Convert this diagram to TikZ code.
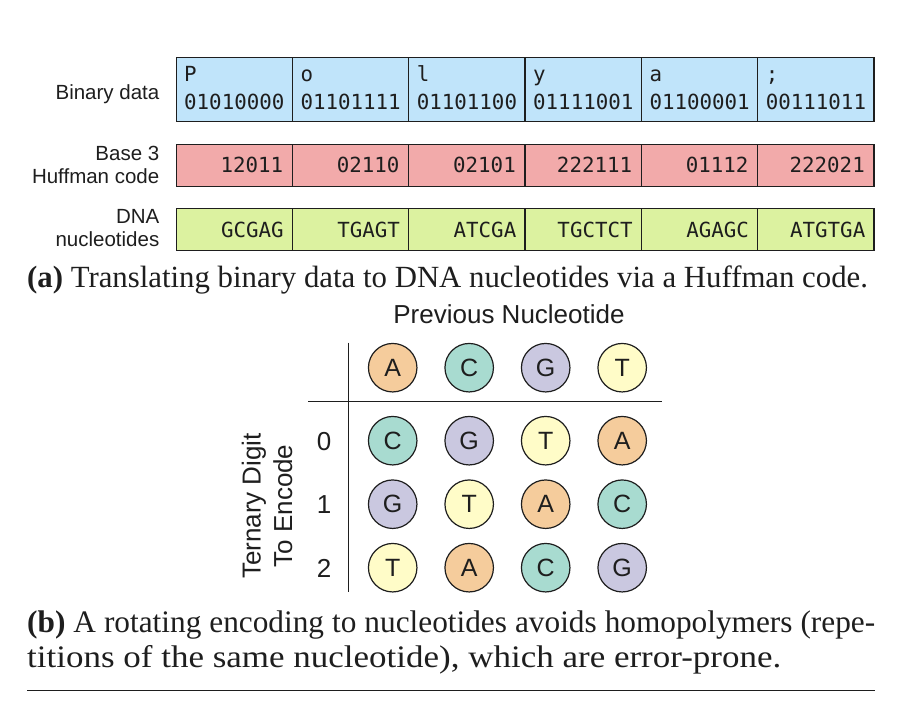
\documentclass[tikz,border=0pt]{standalone}
\usepackage{fontspec}
\usepackage{graphicx}
\setmainfont{Liberation Serif}
\setsansfont{Liberation Sans}
\newfontfamily\cellmono{DejaVu Sans Mono}
\definecolor{binblue}{HTML}{C0E4FA}
\definecolor{hufred}{HTML}{F2AAAA}
\definecolor{dnagreen}{HTML}{DCF2A0}
\definecolor{ncA}{HTML}{F5CC9C}
\definecolor{ncC}{HTML}{A8DBD0}
\definecolor{ncG}{HTML}{CAC8E0}
\definecolor{ncT}{HTML}{FFFCC8}
\definecolor{inkc}{HTML}{1E1E1E}
\begin{document}
\begin{tikzpicture}[x=1pt,y=-1pt,
  cellbox/.style={draw=inkc, line width=1.2pt, minimum height=#1, minimum width=116.33pt, inner sep=0pt, anchor=north west},
  monotxt/.style={font=\cellmono\fontsize{20.8}{24}\selectfont, inner sep=0pt, text=inkc},
  rowlabel/.style={font=\sffamily\fontsize{20.5}{24}\selectfont, anchor=base east, inner sep=0pt, text=inkc},
  nuc/.style={circle, draw=inkc, line width=1.2pt, minimum size=48.5pt, inner sep=0pt, font=\sffamily\fontsize{25}{25}\selectfont, text=inkc},
  tablabel/.style={font=\sffamily\fontsize{26}{31.5}\selectfont, inner sep=0pt, text=inkc},
  captxt/.style={anchor=base west, inner sep=0pt, text=inkc, font=\fontsize{30.8}{36}\selectfont},
  captxtb/.style={captxt, font=\fontsize{31.3}{36}\selectfont},
  rulestyle/.style={line width=1.3pt, draw=inkc}]
\useasboundingbox (0,0) rectangle (898,704);

% row labels
\node[rowlabel] (lbin) at (159.5,99.3) {Binary data};
\node[rowlabel] (lhuf1) at (159.5,160) {Base 3};
\node[rowlabel] (lhuf2) at (159.5,183.3) {Huffman code};
\node[rowlabel] (ldna1) at (159.5,223.3) {DNA};
\node[rowlabel] (ldna2) at (159.5,246.7) {nucleotides};

% cells
\foreach \i/\ch/\bits/\tern/\dna in {0/P/01010000/12011/GCGAG, 1/o/01101111/02110/TGAGT, 2/l/01101100/02101/ATCGA, 3/y/01111001/222111/TGCTCT, 4/a/01100001/01112/AGAGC, 5/{;}/00111011/222021/ATGTGA}{
  \pgfmathsetmacro\xl{175.5+116.33*\i}
  \pgfmathsetmacro\xr{\xl+116.33}
  \node[cellbox=64pt, fill=binblue] (bin\i) at (\xl,56.5) {};
  \node[cellbox=42pt, fill=hufred] (huf\i) at (\xl,143.5) {};
  \node[cellbox=42pt, fill=dnagreen] (dna\i) at (\xl,207.5) {};
  \node[monotxt, anchor=base west] (binc\i) at (\xl+8.5,81) {\ch};
  \node[monotxt, anchor=base west] (binb\i) at (\xl+8.5,109) {\bits};
  \node[monotxt, anchor=base east] (hufc\i) at (\xr-8.5,172) {\tern};
  \node[monotxt, anchor=base east] (dnac\i) at (\xr-8,237) {\dna};
}

% caption (a)
\node[captxt] (capa) at (27,287.5) {\textbf{(a)} Translating binary data to DNA nucleotides via a Huffman code.};

% table (b)
\node[tablabel, anchor=base] (prevt) at (509,323.5) {Previous Nucleotide};
\foreach \c/\L in {0/A,1/C,2/G,3/T}
  \node[nuc, fill=nc\L] (head\c) at ({392.7+76.5*\c},367.7) {\L};
\foreach \r/\row in {0/{C,G,T,A},1/{G,T,A,C},2/{T,A,C,G}}{
  \node[tablabel] (dig\r) at (324,{441.5+63.5*\r}) {\r};
  \foreach \L [count=\c from 0] in \row
    \node[nuc, fill=nc\L] (n\r\c) at ({392.7+76.5*\c},{440.7+63.5*\r}) {\L};
}
\draw[rulestyle] (348.7,342.7) -- (348.7,591.7);
\draw[rulestyle] (308,401.7) -- (661.7,401.7);
\node[tablabel, rotate=90, align=center] (ternl) at (267,506) {Ternary Digit\\To Encode};

% caption (b)
\node[captxtb] (capb1) at (27,632) {\makebox[848pt][s]{\textbf{(b)} A rotating encoding to nucleotides avoids homopolymers (repe-}};
\node[captxtb] (capb2) at (27,667) {\resizebox{754pt}{\height}{titions of the same nucleotide), which are error-prone.}};
\draw[rulestyle] (27,690.5) -- (875,690.5);
\end{tikzpicture}
\end{document}
